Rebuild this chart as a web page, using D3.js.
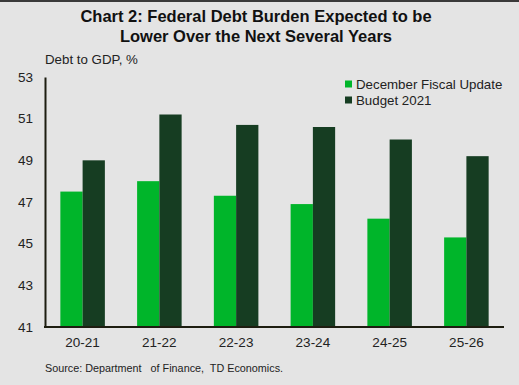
<!DOCTYPE html>
<html>
<head>
<meta charset="utf-8">
<script src="https://cdn.jsdelivr.net/npm/d3@7"></script>
<style>
  html, body { margin: 0; padding: 0; background: #e4e4e4; }
  svg { display: block; font-family: "Liberation Sans", Arial, sans-serif; }
</style>
</head>
<body>
<svg id="chart" width="519" height="385"></svg>
<script>
const years = ["20-21", "21-22", "22-23", "23-24", "24-25", "25-26"];
const decUpdate = [47.5, 48.0, 47.3, 46.9, 46.2, 45.3];
const budget2021 = [49.0, 51.2, 50.7, 50.6, 50.0, 49.2];
const seriesNames = ["December Fiscal Update", "Budget 2021"];
const seriesColors = ["#00b52a", "#163d22"];
const yTicks = [41, 43, 45, 47, 49, 51, 53];

const svg = d3.select("#chart");
const width = 519, height = 385;
const margin = {top: 77, right: 15, bottom: 58, left: 45};

svg.append("rect")
    .attr("width", width)
    .attr("height", height)
    .attr("fill", "#e4e4e4");
svg.append("rect")
    .attr("width", width)
    .attr("height", 2)
    .attr("fill", "#3a3a3a");

// title
const title = svg.append("text")
    .attr("text-anchor", "middle")
    .attr("font-weight", "bold")
    .attr("font-size", 16.5)
    .attr("fill", "#111");
title.append("tspan").attr("x", 256).attr("y", 22).text("Chart 2: Federal Debt Burden Expected to be");
title.append("tspan").attr("x", 256).attr("y", 42).text("Lower Over the Next Several Years");

const x0 = d3.scaleBand()
    .domain(years)
    .range([margin.left, width - margin.right])
    .paddingInner(0.42)
    .paddingOuter(0.2);

const x1 = d3.scaleBand()
    .domain([0, 1])
    .range([0, x0.bandwidth()]);

const y = d3.scaleLinear()
    .domain([41, 53])
    .range([height - margin.bottom, margin.top]);

const rows = years.map((yr, i) => ({year: yr, values: [decUpdate[i], budget2021[i]]}));

svg.append("g")
    .selectAll("g")
    .data(rows)
    .enter().append("g")
    .attr("transform", d => `translate(${x0(d.year)},0)`)
    .selectAll("rect")
    .data(d => d.values.map((v, k) => ({k: k, v: v})))
    .enter().append("rect")
    .attr("x", d => x1(d.k))
    .attr("width", x1.bandwidth())
    .attr("y", d => y(d.v))
    .attr("height", d => y(41) - y(d.v))
    .attr("fill", d => seriesColors[d.k]);

// y axis
const yAxis = svg.append("g")
    .attr("transform", `translate(${margin.left},0)`)
    .call(d3.axisLeft(y).tickValues(yTicks).tickSize(0).tickPadding(12));
yAxis.select(".domain").attr("stroke", "#1d1d10").attr("stroke-width", 2);
yAxis.selectAll("text").attr("font-size", 13.5).attr("fill", "#222").attr("font-family", "Liberation Sans, Arial, sans-serif");

// x axis
const xAxis = svg.append("g")
    .attr("transform", `translate(0,${height - margin.bottom})`)
    .call(d3.axisBottom(x0).tickSize(0).tickPadding(10));
xAxis.select(".domain").attr("stroke", "#1d1d10").attr("stroke-width", 2)
    .attr("d", `M${margin.left - 1},0H${width - margin.right}`);
xAxis.selectAll("text").attr("font-size", 13.5).attr("fill", "#222").attr("font-family", "Liberation Sans, Arial, sans-serif");

svg.append("text")
    .attr("x", margin.left)
    .attr("y", 64)
    .attr("font-size", 13.3)
    .attr("fill", "#222")
    .text("Debt to GDP, %");

// legend
const legend = svg.append("g")
    .selectAll("g")
    .data(seriesNames)
    .enter().append("g")
    .attr("transform", (d, i) => `translate(345,${84 + i * 16})`);
legend.append("rect")
    .attr("y", -3.5)
    .attr("width", 7)
    .attr("height", 7)
    .attr("fill", (d, i) => seriesColors[i]);
legend.append("text")
    .attr("x", 11)
    .attr("dy", "0.35em")
    .attr("font-size", 13.3)
    .attr("fill", "#222")
    .text(d => d);

svg.append("text")
    .attr("x", margin.left)
    .attr("y", 372)
    .attr("font-size", 10.8)
    .attr("fill", "#222")
    .attr("xml:space", "preserve")
    .style("white-space", "pre")
    .text("Source: Department   of Finance,  TD Economics.");
</script>
</body>
</html>
